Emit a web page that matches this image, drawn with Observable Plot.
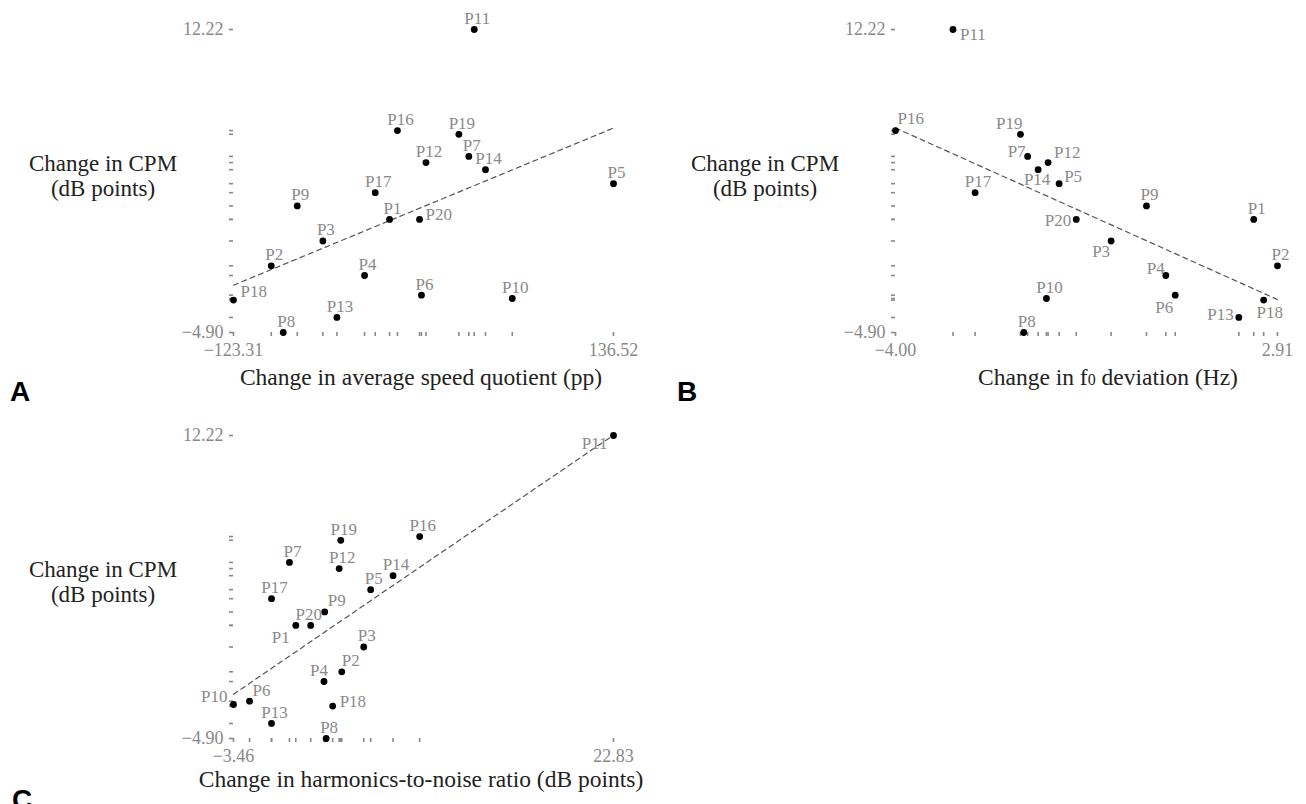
<!DOCTYPE html>
<html><head><meta charset="utf-8">
<script src="https://cdn.jsdelivr.net/npm/d3@7"></script>
<script src="https://cdn.jsdelivr.net/npm/@observablehq/plot@0.6"></script>
<style>
body{margin:0;background:#fff;width:1306px;height:804px;overflow:hidden;position:relative;font-family:"Liberation Serif","Times New Roman",serif;}
.panel{position:absolute;}
.ytitle{position:absolute;font-size:23px;color:#222;text-align:center;line-height:25px;transform:translateX(-50%);white-space:nowrap}
.xtitle{position:absolute;font-size:23.5px;line-height:26px;color:#222;transform:translateX(-50%);white-space:nowrap}
.letter{position:absolute;font-family:"Liberation Sans",Arial,sans-serif;font-weight:bold;font-size:28px;line-height:28px;color:#000}
</style></head><body>
<script>
// ---- data ----
const participants = ["P1","P2","P3","P4","P5","P6","P7","P8","P9","P10","P11","P12","P13","P14","P16","P17","P18","P19","P20"];
const cpmChange = [1.49,-1.13,0.27,-1.68,3.51,-2.79,5.05,-4.90,2.25,-2.98,12.22,4.70,-4.05,4.30,6.51,3.00,-3.07,6.30,1.49];
const speedQuotientChange = [-16.6,-97.5,-62.2,-33.7,136.52,5.2,37.6,-89.3,-79.7,67.3,41.3,8.3,-52.6,49.0,-11.2,-26.4,-123.31,30.8,3.9];
const f0DeviationChange = [2.48,2.91,-0.10,0.89,-1.04,1.06,-1.61,-1.68,0.54,-1.27,-2.96,-1.24,2.21,-1.42,-4.00,-2.56,2.66,-1.74,-0.73];
const hnrChange = [0.85,4.03,5.55,2.80,6.03,-2.35,0.41,2.95,2.85,-3.46,22.83,3.85,-0.83,7.58,9.42,-0.83,3.40,3.96,1.88];

const yTitle = "Change in CPM<br>(dB points)";
const xTitles = {
  A: "Change in average speed quotient (pp)",
  B: "Change in f<span style=\"font-size:0.68em\">0</span> deviation (Hz)",
  C: "Change in harmonics-to-noise ratio (dB points)"
};

// ---- label placement (style) ----
const N = ["middle",3,-11];
const labelsA = {P18:["start",7,-9], P20:["start",6,-5]};
const labelsB = {P11:["start",7,5],P16:["start",2,-12],P19:["end",2,-11],P7:["end",-2,-5],P12:["start",6,-10],
  P14:["middle",-1,10],P5:["start",5,-7],P20:["end",-5,1],P3:["end",-1,11],P4:["end",-1,-7],P6:["end",-2,12],
  P18:["middle",6,12],P13:["end",-5,-3]};
const labelsC = {P11:["end",-6,8],P9:["start",3,-11],P20:["middle",-2,-11],P1:["end",-6,12],P2:["start",0,-11],
  P4:["middle",-5,-11],P10:["end",-6,-8],P6:["start",3,-11],P18:["start",7,-5]};

const fmt = d3.format(".2f");

function panel(xVals, labelSpec, left, top, frameLeft, frameRight) {
  const data = participants.map((p,i)=>({p, x:xVals[i], y:cpmChange[i]}));
  const xmin=d3.min(xVals), xmax=d3.max(xVals);
  const ymin=d3.min(cpmChange), ymax=d3.max(cpmChange);
  const groups = d3.group(data, d => JSON.stringify(labelSpec[d.p] || N));
  const textMarks = [];
  for (const [key, rows] of groups) {
    const [anchor, dx, dy] = JSON.parse(key);
    textMarks.push(Plot.text(rows, {x:"x", y:"y", text:"p", textAnchor:anchor, dx, dy, fill:"#8a8a8a", fontSize:17}));
  }
  const plot = Plot.plot({
    width: frameRight - left + 40, height: 362,
    marginLeft: frameLeft - left, marginRight: 40, marginTop: 29, marginBottom: 30,
    style: {fontFamily:'"Liberation Serif", serif', fontSize:"18px", color:"#888", background:"transparent", overflow:"visible"},
    x: {domain:[xmin,xmax]},
    y: {domain:[ymin,ymax]},
    marks: [
      Plot.axisX({ticks: xVals, tickSize:4, tickPadding:7, strokeWidth:1.6, label:null,
        tickFormat: d => (d===xmin||d===xmax) ? fmt(d) : ""}),
      Plot.axisY({ticks: cpmChange, tickSize:4, tickPadding:6, strokeWidth:1.6, label:null,
        tickFormat: d => (d===ymin||d===ymax) ? fmt(d) : ""}),
      Plot.linearRegressionY(data, {x:"x", y:"y", ci:0, stroke:"#555", strokeWidth:1.2, strokeDasharray:"5,4"}),
      Plot.dot(data, {x:"x", y:"y", r:3.4, fill:"#000", stroke:null}),
      ...textMarks
    ]
  });
  plot.classList.add("panel");
  plot.style.left = left + "px";
  plot.style.top = top + "px";
  document.body.appendChild(plot);
}

panel(speedQuotientChange, labelsA, 120, 0, 233, 613);
panel(f0DeviationChange, labelsB, 780, 0, 895, 1277);
panel(hnrChange, labelsC, 120, 406, 233, 613);

function addDiv(cls, html, x, y) {
  const d = document.createElement("div");
  d.className = cls; d.innerHTML = html;
  d.style.left = x + "px"; d.style.top = y + "px";
  document.body.appendChild(d);
}
addDiv("ytitle", yTitle, 103, 151);
addDiv("ytitle", yTitle, 765, 151);
addDiv("ytitle", yTitle, 103, 557);
addDiv("xtitle", xTitles.A, 421, 364);
addDiv("xtitle", xTitles.B, 1108, 364);
addDiv("xtitle", xTitles.C, 421, 766);
addDiv("letter", "A", 10, 378);
addDiv("letter", "B", 677, 378);
addDiv("letter", "C", 12, 786);
</script>
</body></html>
